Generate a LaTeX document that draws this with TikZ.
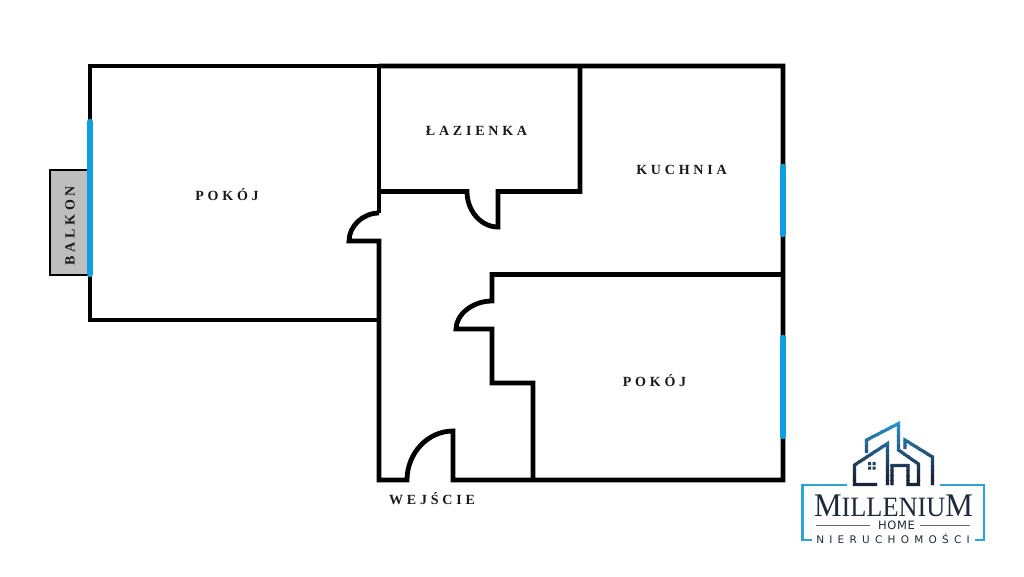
\documentclass[tikz,border=0pt]{standalone}
\usepackage{fontspec}
\newfontfamily\logoserif{Liberation Serif}
\newfontfamily\logosans[LetterSpace=50]{DejaVu Sans}
\newfontfamily\homesans[LetterSpace=6]{DejaVu Sans}
\newfontfamily\roomfont[LetterSpace=27]{Liberation Serif}
\tikzset{
  wall/.style={draw=black,line width=4.8pt,line join=miter,line cap=butt},
  windowline/.style={draw=winblue,line width=6.4pt,line cap=round},
  roomlabel/.style={font=\roomfont\bfseries\fontsize{14}{15}\selectfont,text=black!90,inner sep=0pt},
  logoline/.style={line width=3.2pt,line join=miter},
}
\definecolor{winblue}{HTML}{0E9FE3}
\definecolor{balgray}{HTML}{BEBEBE}
\definecolor{logotop}{HTML}{2C93D3}
\definecolor{logobot}{HTML}{1A2438}
\definecolor{framecol}{HTML}{2BA3DE}
\definecolor{logodark}{HTML}{1E2A3C}
\newcommand\logohouse[1]{%
  \draw[logoline,draw=#1] (887.5,485) -- (887.5,443.5) -- (854.5,465) -- (854.5,484.5) -- (877,484.5);
  \draw[logoline,draw=#1] (866.5,453) -- (866.5,440) -- (898.5,423.5) -- (898.5,450) -- (918.5,464) -- (918.5,484.5) -- (908,484.5) -- (908,465.5) -- (892,465.5) -- (892,485);
  \draw[logoline,draw=#1] (905,449) -- (905,440) -- (932.5,457) -- (932.5,485);
  \fill[#1] (868,462) rectangle (871,465) (872.5,462) rectangle (875.5,465)
            (868,466.5) rectangle (871,469.5) (872.5,466.5) rectangle (875.5,469.5);
}
\begin{document}
\begin{tikzpicture}[x=1pt,y=-1pt]
\useasboundingbox (0,0) rectangle (1024,576);
\fill[white] (0,0) rectangle (1024,576);
% balcony
\draw[fill=balgray,draw=black,line width=2.8pt] (88,170) -- (50,170) -- (50,275) -- (88,275);
\fill[balgray] (51.4,171.4) rectangle (88,273.6);
% walls
\draw[wall] (379,213) -- (379,66) -- (90,66) -- (90,320) -- (379,320);
\draw[wall] (379,66) -- (783,66) -- (783,480) -- (453,480) -- (453,431)
  .. controls (428,431) and (407,453) .. (407,480) -- (379,480) -- (379,241) -- (349,241)
  .. controls (349,226) and (363,213) .. (379,213);
\draw[wall] (580,66) -- (580,191.5) -- (498,191.5) -- (498,227)
  .. controls (481,227) and (467,211) .. (467,191.5) -- (379,191.5);
\draw[wall] (783,274.5) -- (492,274.5) -- (492,301)
  .. controls (472,301) and (456,315) .. (456,329) -- (492,329) -- (492,383) -- (533,383) -- (533,480);
% windows
\draw[windowline] (90,122) -- (90,274);
\draw[windowline] (783,167) -- (783,234);
\draw[windowline] (783,338) -- (783,436);
% labels
\node[roomlabel] (pokoj1) at (227,195) {POKÓJ};
\node[roomlabel] (lazienka) at (476.5,131) {ŁAZIENKA};
\node[roomlabel] (kuchnia) at (681.5,170) {KUCHNIA};
\node[roomlabel] (pokoj2) at (654.5,381) {POKÓJ};
\node[roomlabel] (wejscie) at (432,499) {WEJŚCIE};
\node[roomlabel,rotate=90] (balkon) at (70,226) {BALKON};
% logo house with vertical gradient
\foreach \i in {0,...,13}{
  \pgfmathsetmacro{\pct}{min(100,\i*100/11)}
  \colorlet{bandcol}{logobot!\pct!logotop}
  \begin{scope}
    \clip (840,{420+\i*5}) rectangle (945,{420+\i*5+5.2});
    \logohouse{bandcol}
  \end{scope}
}
% frame
\draw[line width=2.2pt,draw=framecol] (847,485) -- (802.5,485) -- (802.5,512);
\draw[line width=2.2pt,draw=framecol] (940,485) -- (984,485) -- (984,512);
\draw[line width=2.2pt,draw=framecol] (802.5,511) -- (802.5,540) -- (812,540);
\draw[line width=2.2pt,draw=framecol] (984,511) -- (984,540) -- (975,540);
% logo text
\node[inner sep=0pt,text=logodark,xscale=.94,font=\logoserif\fontsize{33}{33}\selectfont] (mill) at (893.5,505.5) {M{\fontsize{28}{30}\selectfont ILLENIU}M};
\node[inner sep=0pt,text=logodark,font=\homesans\fontsize{11.5}{11.5}\selectfont] (home) at (896.5,525) {HOME};
\node[inner sep=0pt,text=logodark,font=\logosans\fontsize{10.5}{10.5}\selectfont] (nier) at (893,538.5) {NIERUCHOMOŚCI};
\draw[logodark!70,line width=0.8pt] (816,525) -- (870,525);
\draw[logodark!70,line width=0.8pt] (920,525) -- (970,525);
\end{tikzpicture}
\end{document}
